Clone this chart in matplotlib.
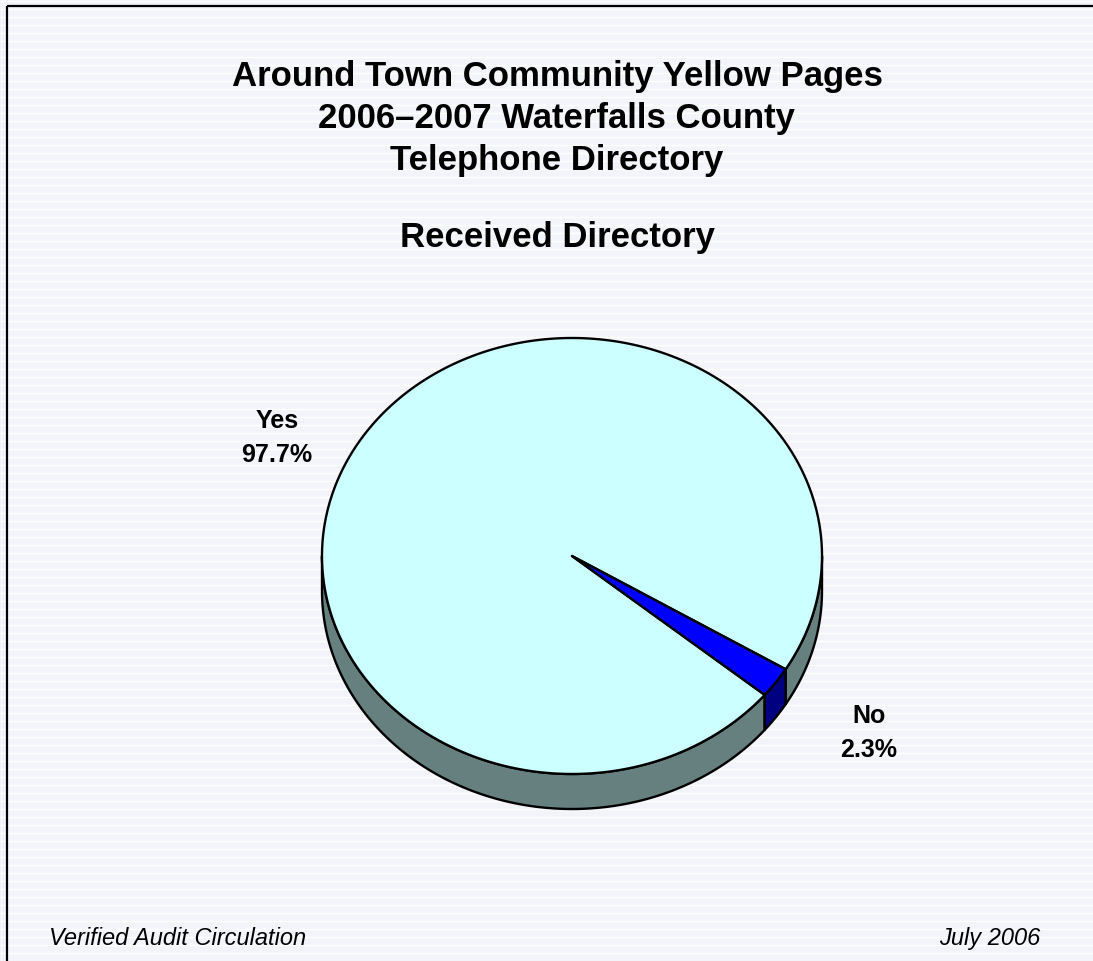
import numpy as np
import matplotlib
matplotlib.use("Agg")
import matplotlib.pyplot as plt
from matplotlib.patches import Polygon

# ---- data ----
categories = ["Yes", "No"]
values = [97.7, 2.3]
top_colors = ["#CCFFFF", "#0000FF"]
side_colors = ["#668080", "#000080"]
title_lines = ["Around Town Community Yellow Pages",
               "2006\u20132007 Waterfalls County",
               "Telephone Directory"]
subtitle = "Received Directory"
footer_left = "Verified Audit Circulation"
footer_right = "July 2006"

W, H = 1093, 962
fig = plt.figure(figsize=(W / 100, H / 100), dpi=100)
fig.patch.set_facecolor("#F3F4FA")
ax = fig.add_axes([0, 0, 1, 1])
ax.set_xlim(0, W)
ax.set_ylim(H, 0)
ax.axis("off")
ax.set_facecolor("#F3F4FA")

# stripes
ax.hlines(np.arange(2, H, 8), 0, W, color="white", lw=1.0, zorder=0)

# frame (top and left)
ax.plot([7, W], [7, 7], color="black", lw=1.6, zorder=1, solid_capstyle="butt")
ax.plot([7, 7], [7, H], color="black", lw=1.6, zorder=1, solid_capstyle="butt")

fam = ["Liberation Sans", "DejaVu Sans"]
# titles
for txt, yb in zip(title_lines, [86, 128, 170]):
    ax.text(557, yb, txt, ha="center", va="baseline", fontsize=25,
            fontweight="bold", family=fam, zorder=5)
ax.text(557, 247, subtitle, ha="center", va="baseline", fontsize=25,
        fontweight="bold", family=fam, zorder=5)

ax.text(49, 945, footer_left, ha="left", va="baseline", fontsize=17,
        style="italic", family=fam, zorder=5)
ax.text(1040, 945, footer_right, ha="right", va="baseline", fontsize=17,
        style="italic", family=fam, zorder=5)

# ---- 3D pie ----
cx, cy, rx, ry, depth = 572, 557, 250, 218, 35
start = -31.3
total = float(sum(values))
spans = [v / total * 360.0 for v in values]
angles = []
a = start
for s in spans:
    angles.append((a, a + s))
    a += s


def pt(t_deg, dy=0.0):
    t = np.radians(t_deg)
    return cx + rx * np.cos(t), cy - ry * np.sin(t) + dy


def front_parts(a1, a2):
    # visible front side where sin(t)<0, i.e. t in (180,360) mod 360
    parts = []
    for k in range(-2, 3):
        lo, hi = 180 + 360 * k, 360 + 360 * k
        s, e = max(a1, lo), min(a2, hi)
        if e > s:
            parts.append((s, e))
    return parts


lw = 1.7
# sides
for (a1, a2), sc in zip(angles, side_colors):
    for s, e in front_parts(a1, a2):
        ts = np.linspace(s, e, 200)
        topp = [pt(t) for t in ts]
        bot = [pt(t, depth) for t in ts[::-1]]
        poly = Polygon(topp + bot, closed=True, facecolor=sc, edgecolor="black",
                       lw=lw, joinstyle="round", zorder=2)
        ax.add_patch(poly)

# top faces
for (a1, a2), tc in zip(angles, top_colors):
    ts = np.linspace(a1, a2, 400)
    pts = [(cx, cy)] + [pt(t) for t in ts]
    poly = Polygon(pts, closed=True, facecolor=tc, edgecolor="black", lw=lw,
                   joinstyle="round", zorder=3)
    ax.add_patch(poly)

# labels
ax.text(277, 438, "Yes\n97.7%", ha="center", va="center", fontsize=18,
        fontweight="bold", family=fam, linespacing=1.5, zorder=5)
ax.text(869, 733, "No\n2.3%", ha="center", va="center", fontsize=18,
        fontweight="bold", family=fam, linespacing=1.5, zorder=5)

fig.savefig("out.png", dpi=100, facecolor=fig.get_facecolor())
